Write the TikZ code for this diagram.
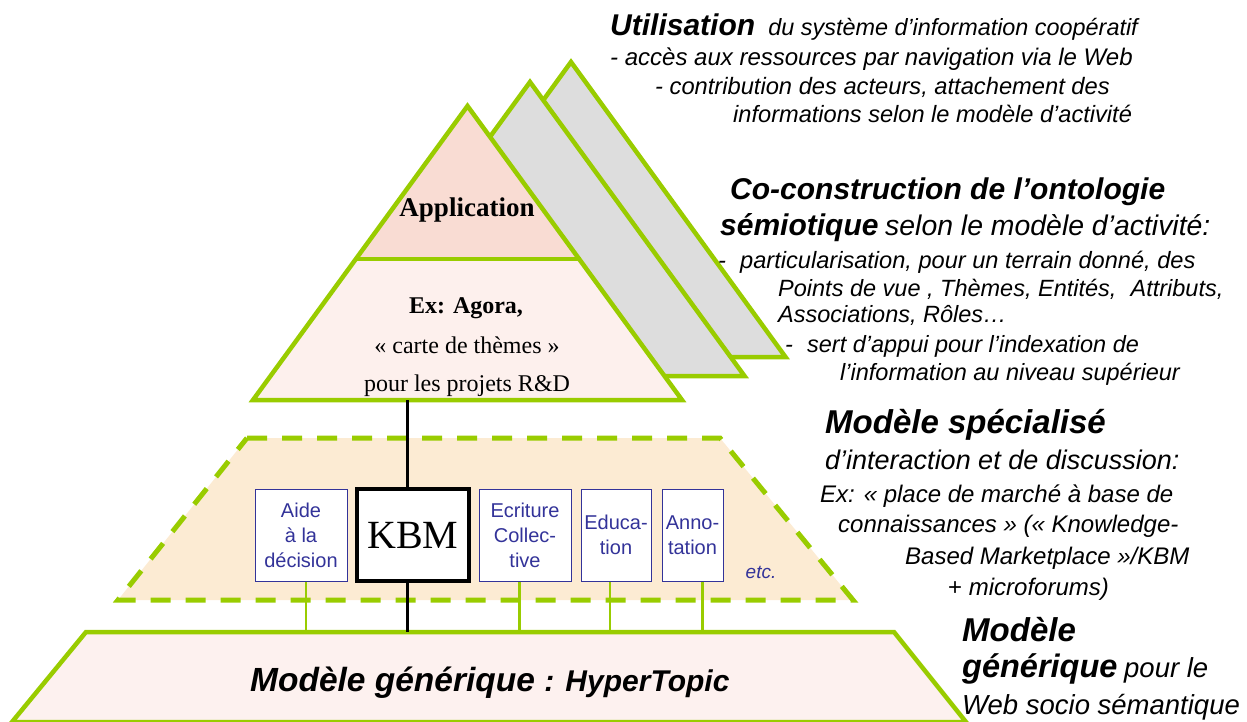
\documentclass[tikz,border=0pt]{standalone}
\usepackage{fontspec}
\setmainfont{Liberation Sans}
\newfontfamily\tnr{Liberation Serif}
\newcommand\fsz[1]{\fontsize{#1}{#1}\selectfont}
\definecolor{lgreen}{HTML}{99CC00}
\definecolor{pgray}{HTML}{DDDDDD}
\definecolor{appfill}{HTML}{F9DCD3}
\definecolor{lowfill}{HTML}{FDF0ED}
\definecolor{dashfill}{HTML}{FCEBD3}
\definecolor{botfill}{HTML}{FDF1EF}
\definecolor{boxblue}{HTML}{333399}
\begin{document}
\begin{tikzpicture}[x=1pt,y=-1pt,
  gline/.style={draw=lgreen,line width=4.5pt},
  dline/.style={draw=lgreen,line width=5pt,dash pattern=on 20pt off 15pt},
  bx/.style={draw=boxblue,line width=1pt,fill=white,text=boxblue,align=center,
     font=\fontsize{20}{25}\selectfont,minimum height=92pt,inner sep=0pt},
  kbmbox/.style={draw=black,line width=3.5pt,fill=white,font=\tnr\fsz{40},
     minimum width=112pt,minimum height=92pt,inner sep=0pt},
  conn/.style={draw=lgreen,line width=2.5pt},
  blk/.style={draw=black,line width=3pt},
  tx/.style={anchor=base west,inner sep=0pt,font=\itshape\fsz{24}},
  serif/.style={anchor=base,inner sep=0pt,font=\tnr\fsz{24}}]
\useasboundingbox (0,0) rectangle (1247,722);
% stacked triangles
\path[gline,fill=pgray] (571,62) -- (785.5,357) -- (356.5,357) -- cycle;
\path[gline,fill=pgray] (530,82) -- (744.5,376) -- (315.5,376) -- cycle;
\fill[lowfill] (467.5,106) -- (682,400) -- (253,400) -- cycle;
\fill[appfill] (467.5,106) -- (579,259) -- (356,259) -- cycle;
\draw[gline] (356,259) -- (581,259);
\draw[gline] (467.5,106) -- (682,400) -- (253,400) -- cycle;
% dashed trapezoid
\fill[dashfill] (247,438) -- (720,438) -- (853,600) -- (118,600) -- cycle;
\draw[dline] (247,438) -- (720,438) -- (853,600) -- (118,600) -- cycle;
% bottom trapezoid
\path[draw=lgreen,line width=4.5pt,fill=botfill] (86,632) -- (894,632) -- (966,722) -- (12,722) -- cycle;
% boxes
\node[bx,minimum width=92pt] (aide) at (301,535) {Aide\\à la\\décision};
\node[kbmbox] (kbm) at (413,535) {KBM};
\node[bx,minimum width=92pt] (ecr) at (525,535) {Ecriture\\Collec-\\tive};
\node[bx,minimum width=70pt] (edu) at (616,535) {Educa-\\tion};
\node[bx,minimum width=61pt] (ann) at (692.5,535) {Anno-\\tation};
\node[anchor=center,inner sep=0pt,text=boxblue,font=\itshape\fsz{19}] (etc) at (761,572) {etc.};
% connectors
\coordinate (ft) at (407,400);
\coordinate (bk) at (407,632);
\coordinate (c1) at (306,632);
\coordinate (c2) at (519.5,632);
\coordinate (c3) at (610,632);
\coordinate (c4) at (702.5,632);
\draw[blk] (ft) -- (ft |- kbm.north);
\draw[blk] (ft |- kbm.south) -- (bk);
\draw[conn] (c1 |- aide.south) -- (c1);
\draw[conn] (c2 |- ecr.south) -- (c2);
\draw[conn] (c3 |- edu.south) -- (c3);
\draw[conn] (c4 |- ann.south) -- (c4);
% triangle texts
\node[serif,font=\tnr\bfseries\fsz{27}] (app) at (467,217) {Application};
\node[serif,font=\tnr\bfseries\fsz{24}] (ag1) at (466,313) {Ex: Agora,};
\node[serif] (ag2) at (467,353) {« carte de thèmes »};
\node[serif] (ag3) at (467,391) {pour les projets R\&D};
% bottom text
\node[anchor=base west,inner sep=0pt,font=\bfseries\itshape\fsz{33.5}] (gen) at (250,691) {Modèle générique};
\node[anchor=base west,inner sep=0pt,font=\bfseries\itshape\fsz{30},xshift=9pt] (gen2) at (gen.base east) {: HyperTopic};
% right texts
\node[tx] (u0) at (610,36) {{\bfseries\fsz{30}Utilisation}\hspace{0.55em}{\fsz{23.4}du système d’information coopératif}};
\node[tx] (u1) at (610,66) {- accès aux ressources par navigation via le Web};
\node[tx,font=\itshape\fsz{23.7}] (u2) at (655,95) {- contribution des acteurs, attachement des};
\node[tx,font=\itshape\fsz{23.6}] (u3) at (733,123) {informations selon le modèle d’activité};
\node[tx,font=\bfseries\itshape\fsz{30}] (o0) at (730,200) {Co-construction de l’ontologie};
\node[tx] (o1) at (720,236) {{\bfseries\fsz{30}sémiotique} {\fsz{28.4}selon le modèle d’activité:}};
\node[tx,font=\itshape\fsz{23.6}] (o2) at (718,268) {-\hspace{0.6em}particularisation, pour un terrain donné, des};
\node[tx,font=\itshape\fsz{23.5}] (o3) at (778,296) {Points de vue , Thèmes, Entités,\hspace{0.6em}Attributs,};
\node[tx,font=\itshape\fsz{23.5}] (o4) at (778,322) {Associations, Rôles…};
\node[tx,font=\itshape\fsz{23.5}] (o5) at (785,352) {-\hspace{0.6em}sert d’appui pour l’indexation de};
\node[tx,font=\itshape\fsz{23.5}] (o6) at (840,380) {l’information au niveau supérieur};
\node[tx,font=\bfseries\itshape\fsz{33}] (s0) at (825,433) {Modèle spécialisé};
\node[tx,font=\itshape\fsz{27}] (s1) at (825,469) {d’interaction et de discussion:};
\node[tx] (s2) at (820,502) {Ex: « place de marché à base de};
\node[tx] (s3) at (838,532) {connaissances » (« Knowledge-};
\node[tx] (s4) at (905,564) {Based Marketplace »/KBM};
\node[tx] (s5) at (948,595) {{\upshape +} microforums)};
\node[tx,font=\bfseries\itshape\fsz{33}] (g0) at (962,641) {Modèle};
\node[tx] (g1) at (962,677) {{\bfseries\fsz{32.5}générique} {\fsz{27.5}pour le}};
\node[tx,font=\itshape\fsz{27.5}] (g2) at (962,714) {Web socio sémantique};
\end{tikzpicture}
\end{document}
